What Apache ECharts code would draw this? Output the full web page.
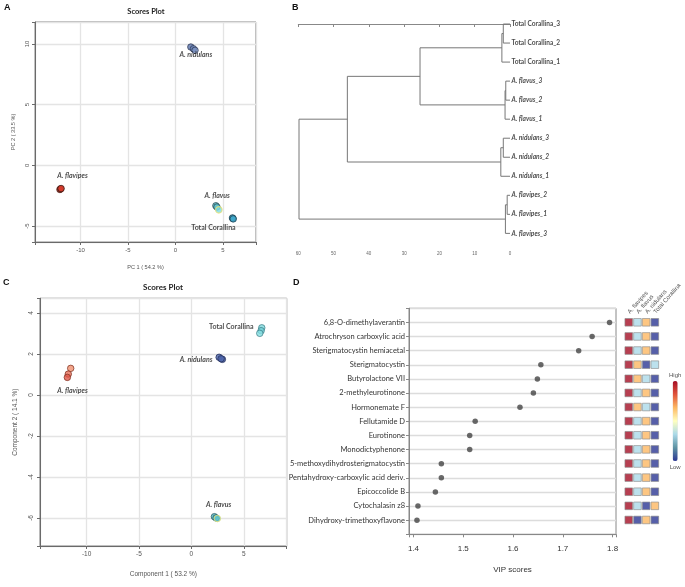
<!DOCTYPE html>
<html><head><meta charset="utf-8">
<script src="https://cdn.jsdelivr.net/npm/echarts@6/dist/echarts.min.js"></script>
<style>html,body{margin:0;padding:0;background:#fff}#c{width:685px;height:587px}</style>
</head><body><div id="c"></div>
<script>
// ---------- Panel A: PCA scores ----------
const pcaA_nidulans  = [[1.63, 9.74], [1.9, 9.6], [2.07, 9.47]];
const pcaA_flavipes  = [[-12.17, -1.98], [-12.1, -1.93], [-12.05, -1.9]];
const pcaA_flavus    = [[4.27, -3.32], [4.38, -3.42], [4.58, -3.65]];
const pcaA_corallina = [[6.06, -4.36], [6.02, -4.32], [6.1, -4.4]];

// ---------- Panel B: dendrogram ----------
const leaves = ['Total Corallina_3', 'Total Corallina_2', 'Total Corallina_1',
  'A. flavus_3', 'A. flavus_2', 'A. flavus_1',
  'A. nidulans_3', 'A. nidulans_2', 'A. nidulans_1',
  'A. flavipes_2', 'A. flavipes_1', 'A. flavipes_3'];
// R hclust style: negative = leaf (1-based), positive = earlier merge step (1-based)
const mergeA = [-1, 1, -4, 3, -7, 5, -10, 7, 2, 9, 10];
const mergeB = [-2, -3, -5, -6, -8, -9, -11, -12, 4, 6, 8];
const mergeHeight = [1.9, 2.3, 1.2, 1.4, 1.9, 2.6, 0.8, 1.3, 25.5, 46.1, 59.8];

// ---------- Panel C: PLS-DA scores ----------
const plsC_flavipes  = [[-11.52, 1.30], [-11.75, 1.02], [-11.84, 0.86]];
const plsC_corallina = [[6.72, 3.28], [6.66, 3.14], [6.53, 3.01]];
const plsC_nidulans  = [[2.65, 1.84], [2.96, 1.74], [2.84, 1.77]];
const plsC_flavus    = [[2.2, -5.94], [2.36, -6.0], [2.48, -6.03]];

// ---------- Panel D: VIP scores ----------
const compounds = ['6,8-O-dimethylaverantin', 'Atrochryson carboxylic acid', 'Sterigmatocystin hemiacetal',
  'Sterigmatocystin', 'Butyrolactone VII', '2-methyleurotinone', 'Hormonemate F', 'Fellutamide D',
  'Eurotinone', 'Monodictyphenone', '5-methoxydihydrosterigmatocystin', 'Pentahydroxy-carboxylic acid deriv.',
  'Epicoccolide B', 'Cytochalasin z8', 'Dihydroxy-trimethoxyflavone'];
const vipScores = [1.794, 1.759, 1.732, 1.656, 1.649, 1.641, 1.614, 1.524, 1.513, 1.513, 1.456, 1.456, 1.444, 1.409, 1.407];
const heatGroups = ['A. flavipes', 'A. flavus', 'A. nidulans', 'Total Corallina'];
// relative level: 1 = low ... 4 = high
const heatFlavipes  = [4, 4, 4, 4, 4, 4, 4, 4, 4, 4, 4, 4, 4, 4, 4];
const heatFlavus    = [2, 2, 2, 3, 3, 2, 3, 2, 2, 2, 2, 2, 2, 2, 1];
const heatNidulans  = [3, 3, 3, 1, 2, 3, 2, 3, 3, 3, 3, 3, 3, 1, 3];
const heatCorallina = [1, 1, 1, 2, 1, 1, 1, 1, 1, 1, 1, 1, 1, 3, 1];

// ================= build =================
const SANS = 'Liberation Sans, Arial, sans-serif';
const CAL = 'Lato, Open Sans, sans-serif';
const chart = echarts.init(document.getElementById('c'), null, {renderer: 'canvas', width: 685, height: 587});

function multFmt(step, dec) {
  return v => { const r = v / step; return Math.abs(r - Math.round(r)) < 1e-6 ? (+v).toFixed(dec) : ''; };
}
function scoreAxes(gi, xr, yr, xStep, yStep, xSplit, ySplit, fs, xName, yName, xGap, yGap, nfs) {
  const common = {
    type: 'value', gridIndex: gi,
    axisLine: {show: true, onZero: false, lineStyle: {color: '#6a6a6a', width: 1}},
    axisTick: {show: true, length: 3, lineStyle: {color: '#6a6a6a'}},
    splitLine: {show: true, lineStyle: {color: '#e4e4e4', width: 1.3}},
    nameLocation: 'middle', nameTextStyle: {fontSize: nfs, color: '#555', fontFamily: SANS}
  };
  return {
    x: Object.assign({}, common, {min: xr[0], max: xr[1], splitNumber: xSplit, name: xName, nameGap: xGap,
      axisLabel: {fontSize: fs, color: '#555', fontFamily: SANS, margin: 5, formatter: multFmt(xStep, 0)}}),
    y: Object.assign({}, common, {min: yr[0], max: yr[1], splitNumber: ySplit, name: yName, nameGap: yGap,
      axisLabel: {fontSize: fs, color: '#555', fontFamily: SANS, rotate: 90, margin: 5, formatter: multFmt(yStep, 0)}})
  };
}
const axA = scoreAxes(0, [-14.8, 8.5], [-6.3, 11.8], 5, 5, 5, 4, 6, 'PC 1 ( 54.2 %)', 'PC 2 ( 33.5 %)', 22, 19, 5.6);
const axC = scoreAxes(2, [-14.45, 9.1], [-7.37, 4.72], 5, 2, 5, 5, 6.5, 'Component 1 ( 53.2 %)', 'Component 2 ( 14.1 %)', 25, 21, 6.5);

function groupSeries(ax, pts, fills, border, label, special) {
  const data = pts.map((p, i) => {
    const item = {value: p, itemStyle: {color: fills[i % fills.length], borderColor: border, borderWidth: 0.9}};
    if (special && special[i]) item.itemStyle = Object.assign(item.itemStyle, special[i]);
    if (i === 0) item.label = {show: true, position: 'inside', offset: label.off,
      formatter: label.text, fontSize: 7, fontWeight: 'bold', fontStyle: label.italic ? 'italic' : 'normal',
      color: '#1a1a1a', fontFamily: CAL};
    return item;
  });
  return {type: 'scatter', xAxisIndex: ax, yAxisIndex: ax, symbolSize: 6.5, data: data, z: 3,
    emphasis: {disabled: true}};
}

// dendrogram geometry from merge table
const nodeH = [], nodeY = [];
function child(c) { return c < 0 ? {h: 0, y: -c - 1} : {h: nodeH[c - 1], y: nodeY[c - 1]}; }
const dendroLines = [];
mergeHeight.forEach((h, i) => {
  const a = child(mergeA[i]), b = child(mergeB[i]);
  nodeH.push(h); nodeY.push((a.y + b.y) / 2);
  dendroLines.push({coords: [[a.h, a.y], [h, a.y], [h, b.y], [b.h, b.y]]});
});

const heatData = [];
[heatFlavipes, heatFlavus, heatNidulans, heatCorallina].forEach((col, ci) =>
  col.forEach((v, ri) => heatData.push([ci, ri, v])));

const option = {
  animation: false,
  backgroundColor: '#fff',
  textStyle: {fontFamily: SANS},
  grid: [
    {left: 35, top: 22, width: 221, height: 220, show: true, borderColor: '#777', borderWidth: 1, backgroundColor: 'transparent'},
    {left: 298.3, top: 14.5, width: 211.7, height: 232.2},
    {left: 40, top: 298.3, width: 246.7, height: 247.7, show: true, borderColor: '#666', borderWidth: 1, backgroundColor: 'transparent'},
    {left: 409, top: 308.3, width: 207, height: 226, show: true, borderColor: '#888', borderWidth: 1, backgroundColor: 'transparent'},
    {left: 624.4, top: 312, width: 34.8, height: 218}
  ],
  xAxis: [
    axA.x,
    {type: 'value', gridIndex: 1, min: 0, max: 60, interval: 10, inverse: true,
      axisLine: {show: true, lineStyle: {color: '#888'}}, axisTick: {show: true, length: 3, lineStyle: {color: '#888'}},
      axisLabel: {fontSize: 4.5, color: '#666', margin: 5}, splitLine: {show: false}},
    axC.x,
    {type: 'value', gridIndex: 3, min: 1.391, max: 1.807, splitNumber: 5,
      axisLine: {show: true, onZero: false, lineStyle: {color: '#888'}}, axisTick: {show: true, length: 3, lineStyle: {color: '#888'}},
      axisLabel: {fontSize: 8, color: '#333', margin: 10, formatter: multFmt(0.1, 1), fontFamily: SANS},
      splitLine: {show: false},
      name: 'VIP scores', nameLocation: 'middle', nameGap: 31, nameTextStyle: {fontSize: 8, color: '#333', fontFamily: SANS}},
    {type: 'category', gridIndex: 4, data: heatGroups, position: 'top',
      axisLine: {show: false}, axisTick: {show: false},
      axisLabel: {rotate: 49, fontSize: 6, color: '#555', margin: -1, interval: 0, fontFamily: SANS}}
  ],
  yAxis: [
    axA.y,
    {type: 'value', gridIndex: 1, min: -0.5, max: 11.7, inverse: true, show: false},
    axC.y,
    {type: 'value', gridIndex: 3, min: -1, max: 15, interval: 1, inverse: true,
      axisLine: {show: true, lineStyle: {color: '#888'}}, axisTick: {show: true, length: 3, lineStyle: {color: '#888'}},
      axisLabel: {fontSize: 7.5, color: '#333', margin: 4, fontFamily: CAL, formatter: v => compounds[v] || ''},
      splitLine: {show: true, lineStyle: {color: '#dcdcdc', width: 1.4}}},
    {type: 'value', gridIndex: 4, min: -0.73, max: 14.71, inverse: true, show: false}
  ],
  visualMap: {
    type: 'continuous', seriesIndex: 11, dimension: 2, min: 1, max: 4, calculable: false,
    inRange: {color: ['#2C3793', '#5E93A3', '#ABD9E9', '#FFFFBF', '#FDB863', '#E0533B', '#A50F26']},
    orient: 'vertical', left: 669, top: 372, itemWidth: 5, itemHeight: 80, padding: 0,
    text: ['High', 'Low'], textGap: 3, textStyle: {fontSize: 6, color: '#555', fontFamily: SANS}
  },
  graphic: [
    {type: 'text', left: 4, top: 3, style: {text: 'A', font: 'bold 9px ' + SANS, fill: '#111'}},
    {type: 'text', left: 292, top: 3, style: {text: 'B', font: 'bold 9px ' + SANS, fill: '#111'}},
    {type: 'text', left: 3, top: 278, style: {text: 'C', font: 'bold 9px ' + SANS, fill: '#111'}},
    {type: 'text', left: 293, top: 278, style: {text: 'D', font: 'bold 9px ' + SANS, fill: '#111'}},
    {type: 'text', x: 146, y: 12, style: {text: 'Scores Plot', font: 'bold 7.5px ' + CAL, fill: '#222', align: 'center', verticalAlign: 'middle'}},
    {type: 'text', x: 163, y: 287, style: {text: 'Scores Plot', font: 'bold 8px ' + CAL, fill: '#222', align: 'center', verticalAlign: 'middle'}}
  ],
  series: [
    groupSeries(0, pcaA_nidulans, ['#5A74AC', '#6882B8', '#7890C0'], '#2B3550', {text: 'A. nidulans', italic: true, off: [5, 7.3]}),
    groupSeries(0, pcaA_flavipes, ['#D43A2A'], '#3A1A14', {text: 'A. flavipes', italic: true, off: [12.5, -13.3]}),
    groupSeries(0, pcaA_flavus, ['#4FB2C0', '#5CC0CC', '#7CDCE4'], '#24434A', {text: 'A. flavus', italic: true, off: [1.3, -10.3]},
      [null, null, {borderColor: '#E8E070', borderWidth: 1.2}]),
    groupSeries(0, pcaA_corallina, ['#3EA8CA'], '#1B3A4A', {text: 'Total Corallina', italic: false, off: [-19.4, 9.3]}),
    {type: 'lines', coordinateSystem: 'cartesian2d', xAxisIndex: 1, yAxisIndex: 1, polyline: true,
      lineStyle: {color: '#777', width: 1, opacity: 1}, data: dendroLines, silent: true},
    {type: 'scatter', xAxisIndex: 1, yAxisIndex: 1, symbolSize: 0, silent: true,
      data: leaves.map((n, i) => ({value: [0, i], name: n})),
      label: {show: true, position: 'right', distance: 1.5,
        formatter: p => p.name.startsWith('A.') ? '{bi|' + p.name + '}' : '{b|' + p.name + '}',
        rich: {b: {fontSize: 6.6, fontWeight: 'bold', color: '#1a1a1a', fontFamily: CAL},
               bi: {fontSize: 6.6, fontWeight: 'bold', fontStyle: 'italic', color: '#1a1a1a', fontFamily: CAL}}}},
    groupSeries(2, plsC_flavipes, ['#F0906F', '#E8705A', '#E05848'], '#7A3020', {text: 'A. flavipes', italic: true, off: [1.8, 22.7]}),
    groupSeries(2, plsC_corallina, ['#7DD8DC', '#6FCDD4', '#86DEE2'], '#3B7C84', {text: 'Total Corallina', italic: false, off: [-30.5, -1]}),
    groupSeries(2, plsC_nidulans, ['#4862A8', '#3F58A0', '#5068AE'], '#1E2A55', {text: 'A. nidulans', italic: true, off: [-23, 2.7]}),
    groupSeries(2, plsC_flavus, ['#4FB5C0', '#5ABFC8', '#60C4CC'], '#27555C', {text: 'A. flavus', italic: true, off: [4.2, -11.7]},
      [null, null, {borderColor: '#E8E070', borderWidth: 1}]),
    {type: 'scatter', xAxisIndex: 3, yAxisIndex: 3, symbolSize: 5.5, silent: true,
      itemStyle: {color: '#444'}, data: vipScores.map((v, i) => [v, i])},
    {type: 'scatter', xAxisIndex: 4, yAxisIndex: 4, symbol: 'rect', symbolSize: [7.6, 7.6], silent: true,
      itemStyle: {borderColor: '#8a8a8a', borderWidth: 0.8}, data: heatData}
  ]
};
chart.setOption(option);
</script>
</body></html>
